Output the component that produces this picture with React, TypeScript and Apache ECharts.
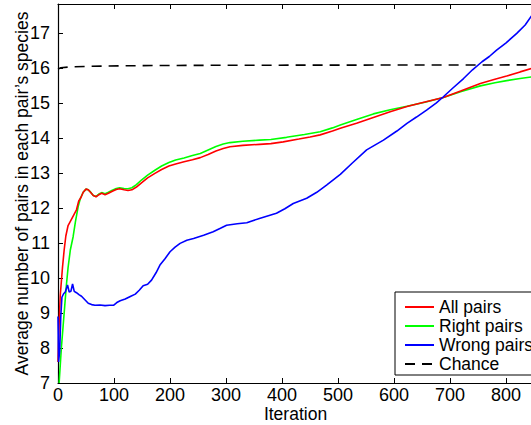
import React, { useEffect, useRef } from "react";
import * as echarts from "echarts";

const seriesNames = ["All pairs", "Right pairs", "Wrong pairs", "Chance"];

const allPairs: number[][] = [
  [0, 7.6], [2, 8.7], [4, 9.5], [6, 9.9], [8, 10.3], [11, 10.8], [14, 11.2], [18, 11.5], [23, 11.65],
  [28, 11.8], [33, 11.95], [37, 12.2], [41, 12.3], [45, 12.45], [50, 12.54], [54, 12.52], [58, 12.45],
  [63, 12.36], [68, 12.32], [73, 12.38], [78, 12.42], [84, 12.38], [90, 12.42], [97, 12.48], [104, 12.53],
  [110, 12.55], [118, 12.52], [125, 12.5], [132, 12.52], [140, 12.6], [149, 12.72], [160, 12.86],
  [173, 12.99], [185, 13.1], [198, 13.2], [210, 13.26], [225, 13.32], [240, 13.38], [254, 13.44],
  [268, 13.53], [282, 13.63], [295, 13.7], [307, 13.75], [330, 13.79], [360, 13.82], [380, 13.84],
  [402, 13.89], [430, 13.97], [450, 14.03], [468, 14.09], [490, 14.2], [504, 14.28], [533, 14.42],
  [563, 14.59], [593, 14.75], [623, 14.9], [655, 15.03], [688, 15.16], [720, 15.35], [754, 15.56],
  [780, 15.68], [801, 15.77], [825, 15.89], [848, 16.0],
];

const rightPairs: number[][] = [
  [2, 7.0], [4, 7.5], [6, 8.0], [9, 8.6], [12, 9.2], [15, 9.8], [18, 10.3], [22, 10.8], [27, 11.18],
  [31, 11.6], [36, 12.04], [40, 12.28], [45, 12.45], [50, 12.54], [54, 12.52], [58, 12.46], [63, 12.36],
  [68, 12.33], [73, 12.4], [78, 12.44], [84, 12.41], [90, 12.45], [97, 12.51], [104, 12.56], [110, 12.58],
  [118, 12.56], [125, 12.55], [132, 12.58], [140, 12.67], [149, 12.8], [160, 12.94], [173, 13.08],
  [185, 13.2], [198, 13.3], [210, 13.37], [225, 13.43], [240, 13.5], [254, 13.56], [268, 13.66],
  [282, 13.76], [295, 13.83], [307, 13.87], [330, 13.91], [360, 13.94], [380, 13.96], [408, 14.02],
  [440, 14.1], [468, 14.18], [490, 14.29], [504, 14.37], [533, 14.53], [563, 14.69], [593, 14.81],
  [623, 14.91], [655, 15.02], [688, 15.16], [720, 15.33], [754, 15.49], [780, 15.58], [801, 15.64],
  [825, 15.7], [848, 15.75],
];

const wrongPairs: number[][] = [
  [0, 8.9], [1, 7.6], [3, 7.9], [5, 8.9], [7, 9.45], [10, 9.55], [13, 9.6], [17, 9.8], [20, 9.6],
  [23, 9.62], [26, 9.83], [29, 9.62], [33, 9.58], [38, 9.52], [42, 9.48], [48, 9.38], [54, 9.28],
  [60, 9.24], [66, 9.22], [75, 9.23], [84, 9.21], [92, 9.22], [99, 9.22], [105, 9.3], [111, 9.35],
  [120, 9.4], [130, 9.48], [138, 9.54], [145, 9.65], [152, 9.78], [160, 9.82], [167, 9.94],
  [175, 10.15], [182, 10.37], [191, 10.55], [200, 10.75], [209, 10.88], [218, 10.99], [230, 11.08],
  [242, 11.13], [260, 11.22], [277, 11.32], [290, 11.42], [301, 11.51], [320, 11.55], [337, 11.58],
  [361, 11.71], [390, 11.85], [405, 11.98], [420, 12.13], [444, 12.28], [462, 12.45], [480, 12.66],
  [504, 12.96], [525, 13.28], [551, 13.66], [581, 13.94], [605, 14.2], [623, 14.42], [640, 14.6],
  [658, 14.8], [675, 15.0], [688, 15.18], [705, 15.43], [724, 15.7], [740, 15.95], [757, 16.18],
  [770, 16.33], [783, 16.51], [800, 16.72], [819, 16.99], [834, 17.23], [848, 17.55],
];

const chance: number[][] = [
  [0, 15.97], [5, 16.01], [20, 16.03], [60, 16.05], [150, 16.07], [300, 16.08], [848, 16.09],
];

const xTicks = { min: 0, max: 848, interval: 100 };
const yTicks = { min: 7, max: 17.83, interval: 1 };

const FONT = "Liberation Sans, Arial, Helvetica, sans-serif";

export default function App() {
  const ref = useRef<HTMLDivElement>(null);
  useEffect(() => {
    if (!ref.current) return;
    const chart = echarts.init(ref.current, undefined, { renderer: "svg" });
    const axisLine = { show: true, lineStyle: { color: "#000", width: 1.2 } };
    const tick = { show: true, inside: true, length: 5, lineStyle: { color: "#000", width: 1 } };
    chart.setOption({
      animation: false,
      backgroundColor: "#fff",
      grid: { left: 58, top: 4, right: 7, bottom: 42, containLabel: false, outerBoundsMode: "none" },
      textStyle: { fontFamily: FONT },
      legend: {
        orient: "vertical",
        left: 395,
        top: 292,
        padding: [6, 12, 2, 9],
        itemWidth: 29,
        itemHeight: 17,
        itemGap: 1,
        itemStyle: { opacity: 0 },
        borderColor: "#000",
        borderWidth: 1,
        backgroundColor: "#fff",
        borderRadius: 0,
        textStyle: { fontFamily: FONT, fontSize: 17.5, color: "#000", lineHeight: 17 },
        data: seriesNames,
      },
      xAxis: [
        {
          type: "value",
          min: xTicks.min,
          max: xTicks.max,
          interval: xTicks.interval,
          name: "Iteration",
          nameLocation: "middle",
          nameGap: 22,
          nameMoveOverlap: false,
          nameTextStyle: { fontFamily: FONT, fontSize: 17.5, color: "#000" },
          axisLine,
          axisTick: tick,
          splitLine: { show: false },
          axisLabel: { fontFamily: FONT, fontSize: 18, color: "#000", margin: 3, showMaxLabel: false },
        },
        {
          type: "value",
          position: "top",
          min: xTicks.min,
          max: xTicks.max,
          interval: xTicks.interval,
          axisLine,
          axisTick: tick,
          splitLine: { show: false },
          axisLabel: { show: false },
        },
      ],
      yAxis: {
        type: "value",
        min: yTicks.min,
        max: yTicks.max,
        interval: yTicks.interval,
        name: "Average number of pairs in each pair\u2019s species",
        nameLocation: "middle",
        nameGap: 27,
        nameMoveOverlap: false,
        nameTextStyle: { fontFamily: FONT, fontSize: 17.5, color: "#000" },
        axisLine,
        axisTick: tick,
        splitLine: { show: false },
        axisLabel: { fontFamily: FONT, fontSize: 18, color: "#000", margin: 8, showMaxLabel: false },
      },
      series: [
        { name: seriesNames[0], type: "line", data: allPairs, showSymbol: false, symbol: "none", lineStyle: { color: "#ff0000", width: 1.6 }, itemStyle: { color: "#ff0000" }, z: 3 },
        { name: seriesNames[1], type: "line", data: rightPairs, showSymbol: false, symbol: "none", lineStyle: { color: "#00ff00", width: 1.6 }, itemStyle: { color: "#00ff00" }, z: 2 },
        { name: seriesNames[2], type: "line", data: wrongPairs, showSymbol: false, symbol: "none", lineStyle: { color: "#0000ff", width: 1.6 }, itemStyle: { color: "#0000ff" }, z: 4 },
        { name: seriesNames[3], type: "line", data: chance, showSymbol: false, symbol: "none", lineStyle: { color: "#000", width: 1.6, type: [10, 7] }, itemStyle: { color: "#000" }, z: 5 },
      ],
    });
    return () => chart.dispose();
  }, []);
  return (
    <div style={{ position: "fixed", left: 0, top: 0, width: 531, height: 425, overflow: "hidden", background: "#fff" }}>
      <div ref={ref} style={{ width: 540, height: 425 }} />
    </div>
  );
}
